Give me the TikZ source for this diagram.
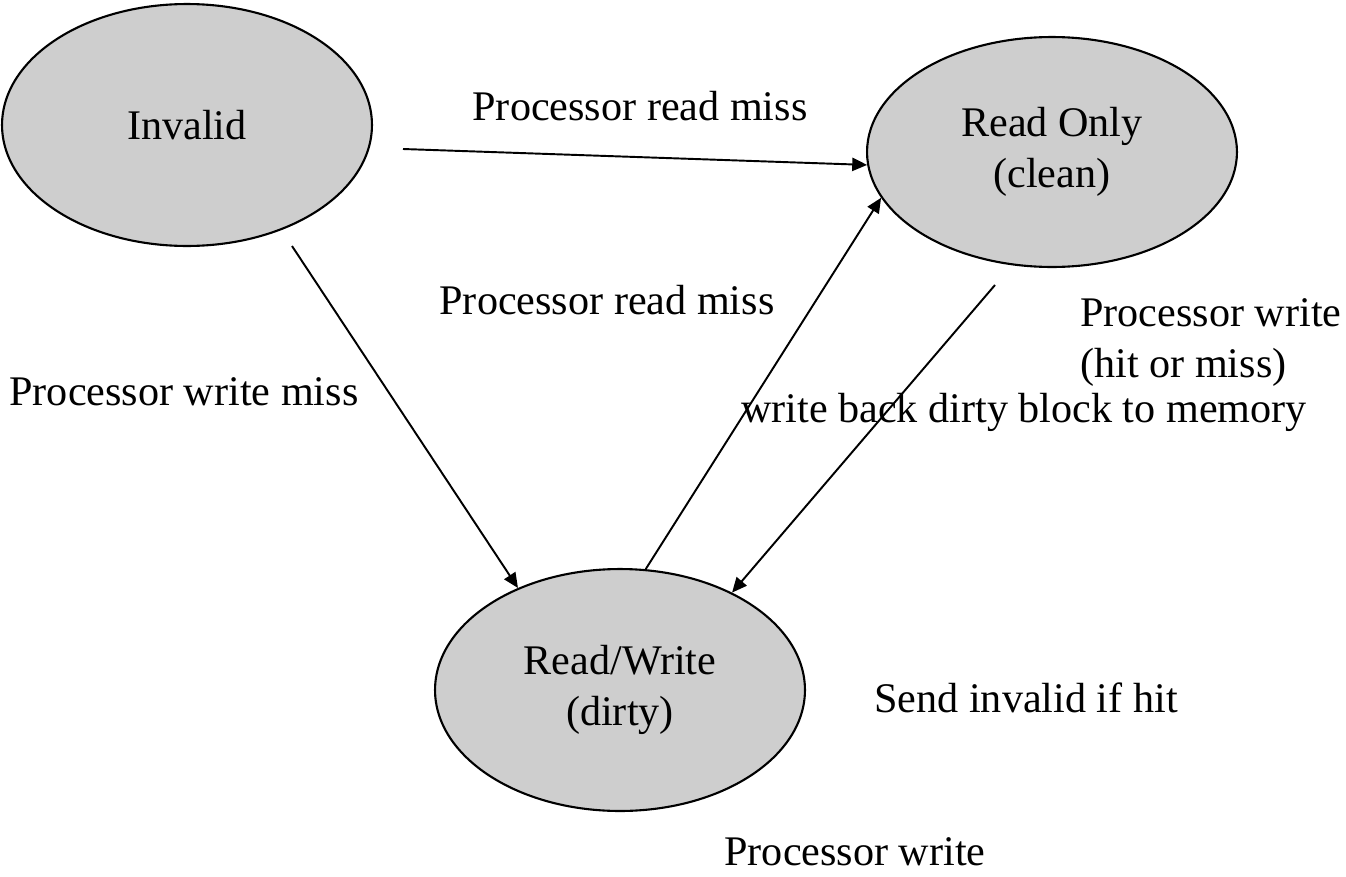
\documentclass[tikz,border=0pt]{standalone}
\usepackage{fontspec}
\setmainfont{Liberation Serif}
\usepackage{xcolor}
\usepackage{tikz}
\usetikzlibrary{shapes.geometric, arrows.meta}

\definecolor{stategray}{RGB}{206,206,206}

\begin{document}
\begin{tikzpicture}[x=0.02cm, y=-0.02cm, font=\fontsize{24}{29}\selectfont,
    state/.style={ellipse, draw, line width=1.2pt, fill=stategray, align=center, inner sep=0pt,
        minimum width=7.4cm, minimum height=4.84cm},
    lbl/.style={align=left, inner sep=0pt},
    trans/.style={-{Triangle[length=8.5pt, width=7.5pt]}, line width=1.1pt}]
    \useasboundingbox (0,0) rectangle (1346,876);

    \node [state] (invalid) at (187,125) {Invalid};
    \node [state, minimum height=4.6cm] (readonly) at (1052,152) {Read Only\\(clean)};
    \node [state] (readwrite) at (620,690) {Read/Write\\(dirty)};

    \coordinate (invalidout) at (403,149);
    \coordinate (invalidbot) at (292,246);
    \coordinate (readonlybot) at (995,285);

    \draw [trans] (invalidout) -- (readonly.184);
    \draw [trans] (invalidbot) -- (readwrite.135);
    \draw [trans] (readwrite.78) -- (readonly.195);
    \draw [trans] (readonlybot) -- (readwrite.41);

    \node [lbl] (rdmisstop) at (640,106) {Processor read miss};
    \node [lbl] (rdmissmid) at (607,300) {Processor read miss};
    \node [lbl] (wrmiss) at (184,392) {Processor write miss};
    \node [lbl, anchor=west] (wrhit) at (1080,343) {Processor write\\(hit or miss)};
    \node [lbl] (wrback) at (1024,412) {write back dirty block to memory};
    \node [lbl] (sendinv) at (1026,698) {Send invalid if hit};
    \node [lbl] (wrself) at (855,852) {Processor write};
\end{tikzpicture}
\end{document}
